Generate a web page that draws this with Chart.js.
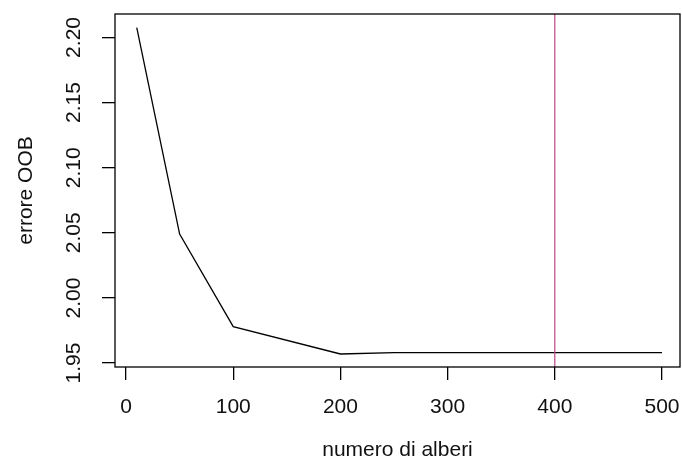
<!DOCTYPE html>
<html>
<head>
<meta charset="utf-8">
<script src="https://cdn.jsdelivr.net/npm/chart.js@4"></script>
<style>
  html, body { margin: 0; padding: 0; background: #ffffff; }
  #wrap { width: 682px; height: 473px; }
</style>
</head>
<body>
<div id="wrap"><canvas id="c" width="682" height="473"></canvas></div>
<script>
// ---- data ----
const nTrees   = [10, 50, 100, 200, 250, 300, 400, 500];
const oobError = [2.2075, 2.049, 1.978, 1.957, 1.958, 1.958, 1.958, 1.958];
const xTicks = [0, 100, 200, 300, 400, 500];
const yTicks = [1.95, 2.00, 2.05, 2.10, 2.15, 2.20];
const yTickLabels = ["1.95", "2.00", "2.05", "2.10", "2.15", "2.20"];
const vLineAt = 400;
const xTitle = "numero di alberi";
const yTitle = "errore OOB";

const FONT = { family: "Liberation Sans", size: 21 };

const boxPlugin = {
  id: 'box',
  afterDatasetsDraw(chart) {
    const { ctx, chartArea: a, scales } = chart;
    ctx.save();
    const px = scales.x.getPixelForValue(vLineAt);
    ctx.strokeStyle = '#b8488a';
    ctx.lineWidth = 1.2;
    ctx.beginPath();
    ctx.moveTo(px, a.top);
    ctx.lineTo(px, a.bottom);
    ctx.stroke();
    ctx.strokeStyle = '#000';
    ctx.lineWidth = 1.3;
    ctx.strokeRect(a.left, a.top, a.right - a.left, a.bottom - a.top);
    ctx.restore();
  }
};

new Chart(document.getElementById('c'), {
  type: 'line',
  data: {
    datasets: [{
      data: nTrees.map((x, i) => ({ x: x, y: oobError[i] })),
      borderColor: '#000',
      borderWidth: 1.3,
      pointRadius: 0,
      tension: 0,
      fill: false
    }]
  },
  options: {
    responsive: false,
    animation: false,
    events: [],
    layout: { padding: { top: 14, right: 2, left: 0, bottom: 0 } },
    plugins: { legend: { display: false }, tooltip: { enabled: false } },
    scales: {
      x: {
        type: 'linear',
        min: -10.3, max: 516.8,
        afterBuildTicks(s) { s.ticks = xTicks.map(v => ({ value: v })); },
        afterFit(s) { s.height = 106; s.paddingLeft = 0; s.paddingRight = 0; },
        grid: { drawOnChartArea: false, color: '#000', tickLength: 13, lineWidth: 1.3 },
        border: { display: false },
        ticks: {
          color: '#111', font: FONT, padding: 15, maxRotation: 0, autoSkip: false,
          callback: v => String(v)
        },
        title: { display: true, text: xTitle, color: '#111', font: FONT, padding: { top: 0, bottom: 10 } }
      },
      y: {
        type: 'linear',
        min: 1.947, max: 2.218,
        afterBuildTicks(s) { s.ticks = yTicks.map(v => ({ value: v })); },
        afterFit(s) { s.width = 115; s.paddingTop = 0; s.paddingBottom = 0; },
        grid: { drawOnChartArea: false, color: '#000', tickLength: 13, lineWidth: 1.3 },
        border: { display: false },
        ticks: {
          color: '#111', font: FONT, padding: 7, autoSkip: false,
          minRotation: 90, maxRotation: 90, crossAlign: 'center',
          callback: (v) => { const i = yTicks.findIndex(t => Math.abs(t - v) < 1e-9); return i >= 0 ? yTickLabels[i] : ''; }
        },
        title: { display: true, text: yTitle, color: '#111', font: FONT, padding: { top: 14, bottom: 0 } }
      }
    }
  },
  plugins: [boxPlugin]
});
</script>
</body>
</html>
